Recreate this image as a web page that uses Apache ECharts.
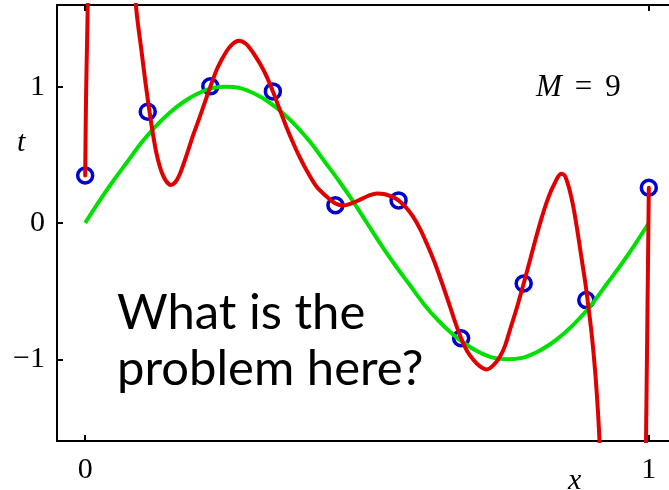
<!DOCTYPE html>
<html>
<head>
<meta charset="utf-8">
<script src="https://cdn.jsdelivr.net/npm/echarts@6/dist/echarts.min.js"></script>
<style>
  html, body { margin: 0; padding: 0; background: #fff; }
  #chart { width: 669px; height: 490px; }
</style>
</head>
<body>
<div id="chart"></div>
<script>
// Tick positions on each axis
const xTicks = [0, 1];
const yTicks = [-1, 0, 1];

// Underlying curve t = f(x), sampled along x
const curveX = [0, 0.025, 0.05, 0.075, 0.1, 0.125, 0.15, 0.175, 0.2, 0.225,
                0.25, 0.275, 0.3, 0.325, 0.35, 0.375, 0.4, 0.425, 0.45, 0.475,
                0.5, 0.525, 0.55, 0.575, 0.6, 0.625, 0.65, 0.675, 0.7, 0.725,
                0.75, 0.775, 0.8, 0.825, 0.85, 0.875, 0.9, 0.925, 0.95, 0.975, 1];
const curveT = [0, 0.16, 0.31, 0.45, 0.59, 0.71, 0.81, 0.89, 0.95, 0.99,
                1, 0.99, 0.95, 0.89, 0.81, 0.71, 0.59, 0.45, 0.31, 0.16,
                0, -0.16, -0.31, -0.45, -0.59, -0.71, -0.81, -0.89, -0.95, -0.99,
                -1, -0.99, -0.95, -0.89, -0.81, -0.71, -0.59, -0.45, -0.31, -0.16, 0];

// Observed training points
const obsX = [0, 0.111, 0.222, 0.333, 0.444, 0.556, 0.667, 0.778, 0.889, 1];
const obsT = [0.349, 0.817, 1.003, 0.966, 0.130, 0.166, -0.846, -0.444, -0.566, 0.259];

// Fitted order-9 polynomial, sampled along x (runs beyond the visible range at both ends)
const fitX = [0, 0.0017, 0.0046, 0.007, 0.03, 0.06, 0.085, 0.09, 0.1, 0.107,
              0.1137, 0.12, 0.126, 0.132, 0.138, 0.145, 0.152, 0.16, 0.168, 0.176,
              0.184, 0.192, 0.2, 0.211, 0.222, 0.235, 0.25, 0.262, 0.273, 0.285,
              0.297, 0.31, 0.322, 0.333, 0.345, 0.357, 0.37, 0.381, 0.395, 0.41,
              0.428, 0.444, 0.458, 0.47, 0.487, 0.505, 0.518, 0.53, 0.543, 0.556,
              0.57, 0.582, 0.595, 0.607, 0.62, 0.633, 0.647, 0.657, 0.667, 0.677,
              0.689, 0.7, 0.712, 0.724, 0.736, 0.745, 0.754, 0.766, 0.778, 0.79,
              0.801, 0.81, 0.819, 0.827, 0.834, 0.839, 0.844, 0.849, 0.852, 0.859,
              0.866, 0.873, 0.88, 0.887, 0.893, 0.899, 0.905, 0.91, 0.9125, 0.92,
              0.95, 0.985, 0.993, 0.995, 0.9975, 1];
const fitT = [0.349, 0.97, 1.6, 2.3, 5, 5, 2.1, 1.6, 1.26, 1.03,
              0.83, 0.66, 0.52, 0.42, 0.35, 0.3, 0.279, 0.3, 0.36, 0.45,
              0.55, 0.65, 0.74, 0.87, 1.0, 1.14, 1.255, 1.315, 1.337, 1.315,
              1.255, 1.17, 1.075, 0.966, 0.835, 0.705, 0.578, 0.48, 0.37, 0.27,
              0.195, 0.143, 0.128, 0.14, 0.17, 0.205, 0.217, 0.213, 0.195, 0.166,
              0.11, 0.045, -0.05, -0.16, -0.29, -0.44, -0.61, -0.735, -0.846, -0.935,
              -1.005, -1.05, -1.075, -1.045, -0.98, -0.9, -0.78, -0.62, -0.444, -0.26,
              -0.09, 0.04, 0.155, 0.24, 0.3, 0.34, 0.362, 0.355, 0.34, 0.25,
              0.12, -0.05, -0.24, -0.43, -0.62, -0.83, -1.1, -1.4, -1.6, -2.3,
              -5, -5, -2.3, -1.6, -0.69, 0.259];

const zip = (xs, ys) => xs.map((x, i) => [x, ys[i]]);

const serif = '"Liberation Serif", "DejaVu Serif", serif';
const fmtNum = v => (v < 0 ? '\u2212' + Math.abs(v) : String(v));

const tickStyle = { color: '#000', width: 2 };
const lineBlack = { show: true, onZero: false, lineStyle: { color: '#000', width: 2 } };

const chart = echarts.init(document.getElementById('chart'), null, { renderer: 'canvas' });

chart.setOption({
  animation: false,
  backgroundColor: '#ffffff',
  grid: {
    left: 57, right: -8, top: 5, bottom: 49,
    outerBoundsMode: 'none', containLabel: false,
    show: false
  },
  xAxis: [{
    type: 'value', min: -0.05, max: 1.05, position: 'bottom',
    axisLine: lineBlack,
    splitLine: { show: false },
    axisTick: { show: true, inside: true, length: 6, customValues: xTicks, lineStyle: tickStyle },
    axisLabel: { customValues: xTicks, formatter: fmtNum, margin: 14,
                 fontFamily: serif, fontSize: 30, color: '#000' }
  }, {
    type: 'value', min: -0.05, max: 1.05, position: 'top',
    axisLine: lineBlack,
    splitLine: { show: false },
    axisTick: { show: true, inside: true, length: 6, customValues: xTicks, lineStyle: tickStyle },
    axisLabel: { show: false }
  }],
  yAxis: {
    type: 'value', min: -1.6, max: 1.6, position: 'left',
    axisLine: lineBlack,
    splitLine: { show: false },
    axisTick: { show: true, inside: true, length: 6, customValues: yTicks, lineStyle: tickStyle },
    axisLabel: { customValues: yTicks, formatter: fmtNum, margin: 12,
                 fontFamily: serif, fontSize: 30, color: '#000' }
  },
  series: [{
    name: 'observed', type: 'scatter', z: 2,
    data: zip(obsX, obsT),
    symbol: 'circle', symbolSize: 15,
    itemStyle: { color: 'rgba(0,0,0,0)', borderColor: '#0000d0', borderWidth: 3.5, opacity: 1 }
  }, {
    name: 'true', type: 'line', z: 3,
    data: zip(curveX, curveT),
    smooth: 0.3, showSymbol: false,
    lineStyle: { color: '#00e000', width: 4 }
  }, {
    name: 'fit', type: 'line', z: 4,
    data: zip(fitX, fitT),
    smooth: 0.3, showSymbol: false, clip: true,
    lineStyle: { color: '#e00000', width: 4, join: 'round', cap: 'round' }
  }],
  graphic: [{
    type: 'text', left: 17, top: 128,
    style: { text: 't', font: 'italic 30px ' + serif, fill: '#000' }
  }, {
    type: 'text', left: 568, top: 466,
    style: { text: 'x', font: 'italic 30px ' + serif, fill: '#000' }
  }, {
    type: 'text', left: 536, top: 72,
    style: {
      text: '{m|M}{s|=}{n|9}',
      rich: {
        m: { font: 'italic 31px ' + serif, fill: '#000' },
        s: { font: '31px ' + serif, fill: '#000', padding: [0, 13, 0, 13] },
        n: { font: '31px ' + serif, fill: '#000' }
      }
    }
  }, {
    type: 'text', left: 117, top: 285,
    style: {
      text: 'What is the\nproblem here?',
      font: '49px Lato, "Open Sans", sans-serif',
      lineHeight: 56, fill: '#000'
    }
  }]
});
</script>
</body>
</html>
